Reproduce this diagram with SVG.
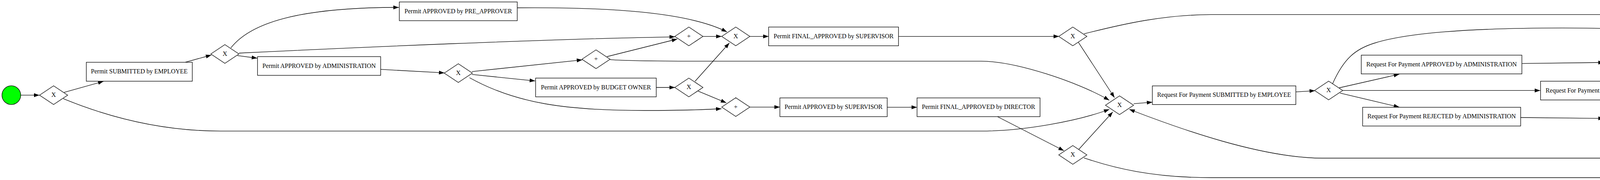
<svg xmlns="http://www.w3.org/2000/svg" width="6089" height="461" viewBox="0 0 6089 461">
<style>
.n rect,.n polygon{fill:#fff;stroke:#000;stroke-width:1.33}
.n text{font-family:"Liberation Serif","Times New Roman",serif;font-size:16px;text-anchor:middle;fill:#000}
.e path{fill:none;stroke:#000;stroke-width:1.33;marker-end:url(#arr)}
</style>
<defs>
<marker id="arr" markerUnits="userSpaceOnUse" markerWidth="14" markerHeight="10" refX="13.3" refY="4.7" orient="auto" viewBox="0 0 13.3 9.4" overflow="visible"><path d="M0,0 L13.3,4.7 L0,9.4 z" fill="#000"/></marker>
</defs>
<rect width="6089" height="461" fill="#fff"/>
<g id="edges" class="e">
<path d="M53,243.7 L101,243.7"/>
<path d="M164,236.7 L265,208.3"/>
<path d="M162,252.7 C260,293 400,335.7 565,335.7 L2511.6,335.7 C2620,335.7 2760,310 2840,280"/>
<path d="M474.5,159.3 L541,141"/>
<path d="M591,122.7 C640,60 760,19 1021,19"/>
<path d="M612,136 C900,122 1400,100 1728,94.3"/>
<path d="M607.9,142.3 L658.5,149"/>
<path d="M974.5,177.7 L1137.8,186.7"/>
<path d="M1207.9,183.3 L1490.6,153.3"/>
<path d="M1207.9,190.7 L1370,207.3"/>
<path d="M1202,199 C1320,265 1450,283 1650,283 C1750,283 1800,281 1847,278.5"/>
<path d="M1324,20 C1550,18 1760,30 1861,81.7"/>
<path d="M1553.9,145 L1733.8,100"/>
<path d="M1561.8,152.7 C1600,156 1700,156.7 1800,156.7 L2511.6,156.7 C2600,156.7 2760,210 2839.7,256.7"/>
<path d="M1799.8,93.3 L1847.4,93.3"/>
<path d="M1680,224 L1727.9,224"/>
<path d="M1779.3,208.3 L1867.2,110"/>
<path d="M1787.2,233.3 L1859.3,263.3"/>
<path d="M1919.8,93.3 L1967.7,93.3"/>
<path d="M1919.8,274.3 L1996.5,274.3"/>
<path d="M2271.3,274.7 L2347.6,274.7"/>
<path d="M2300.2,93.3 L2711.2,93.3"/>
<path d="M2554,299 L2723.7,386"/>
<path d="M2760.7,108.3 L2853.1,250"/>
<path d="M2775,86.7 C2880,60 2980,38 3100,37.3 L5655.4,37.3 C5760,37.3 5870,120 5936.7,235"/>
<path d="M2761.6,382.7 L2848.7,286.7"/>
<path d="M2775,404.3 C2850,430 2950,455 3100,455 L5655.4,455 C5780,455 5880,350 5936.7,269.3"/>
<path d="M2902.2,265.7 L2950,261.7"/>
<path d="M3317.4,235.3 L3366.5,232.3"/>
<path d="M3411.2,215 C3440,150 3470,125 3520,110 C3600,85 3750,72 4000,71.7 C4250,72 4450,85 4553.6,96.5"/>
<path d="M3428.1,225 L3582.1,190"/>
<path d="M3437,231.7 L3942.9,231.7"/>
<path d="M3430.4,238.3 L3582.1,274.3"/>
<path d="M3896,162.7 L4105.8,160"/>
<path d="M4172.8,155 L4555.8,103.3"/>
<path d="M4177.2,160.7 L4387,165.7"/>
<path d="M4340.2,243.3 C4500,243 4720,238 4800,210 C4825,200 4840,192 4852.7,182.7"/>
<path d="M3892.9,301 L4105.8,303.3"/>
<path d="M4177.2,301.7 C4350,292 4600,283 4800,282.7 L5655,282.7 C5750,282.7 5850,268 5920,256"/>
<path d="M4177.2,306 L4411.6,327.3"/>
<path d="M4622.8,101.7 C4720,118 4800,135 4850.4,158.3"/>
<path d="M4790.6,170.7 L4837,170.7"/>
<path d="M4910.7,170.7 L4957.6,170.7"/>
<path d="M4766.1,343.3 L4837,343.3"/>
<path d="M4910.7,343.3 C5100,341 5400,338.3 5713,338.3 C5800,338.3 5870,305 5931.7,266.7"/>
<path d="M4854.9,355 C4780,390 4640,417 4500,417 C4350,417 4280,405 4179.5,405 L3385.7,405 C3230,405 3020,330 2891,280"/>
<path d="M5385.3,170.7 L5433,170.7"/>
<path d="M5565.2,170.7 L5613,170.7"/>
<path d="M5684.4,165.7 C5740,162 5830,165 5880,190 C5900,202 5918,218 5931.7,232.3"/>
<path d="M5673.2,179 L5731.3,198.3"/>
<path d="M5868,235 L5920,245.7"/>
<path d="M5987.7,251.7 L6036,251.7"/>
</g>
<g id="start" class="n"><circle cx="29" cy="243.7" r="24" fill="#00ff00" stroke="#000" stroke-width="1.33"/></g>
<g id="end" class="n"><circle cx="6060" cy="251.7" r="24" fill="#ffa500" stroke="#000" stroke-width="1.33"/></g>
<g id="g1" class="n"><polygon points="101.2,243.7 137.2,219.7 173.2,243.7 137.2,267.7"/><text x="137.2" y="248">X</text></g>
<g id="t1" class="n"><rect x="221" y="159.5" width="271.3" height="48.5"/><text x="356.6" y="188.3">Permit SUBMITTED by EMPLOYEE</text></g>
<g id="g2" class="n"><polygon points="539.7,138.3 575.7,114.3 611.7,138.3 575.7,162.3"/><text x="575.7" y="142.6">X</text></g>
<g id="t2" class="n"><rect x="1022.3" y="5" width="301.9" height="48"/><text x="1173.2" y="33.5">Permit APPROVED by PRE_APPROVER</text></g>
<g id="t3" class="n"><rect x="659.3" y="145" width="315.2" height="48"/><text x="816.9" y="173.5">Permit APPROVED by ADMINISTRATION</text></g>
<g id="g3" class="n"><polygon points="1137.3,187.3 1173.3,163.3 1209.3,187.3 1173.3,211.3"/><text x="1173.3" y="191.6">X</text></g>
<g id="p2" class="n"><polygon points="1489.8,151.7 1525.8,127.7 1561.8,151.7 1525.8,175.7"/><text x="1525.8" y="156">+</text></g>
<g id="p1" class="n"><polygon points="1727.5,93.3 1763.5,69.3 1799.5,93.3 1763.5,117.3"/><text x="1763.5" y="97.6">+</text></g>
<g id="t4" class="n"><rect x="1371.2" y="200" width="308.8" height="48"/><text x="1525.6" y="228.5">Permit APPROVED by BUDGET OWNER</text></g>
<g id="x3" class="n"><polygon points="1727.5,224 1763.5,200 1799.5,224 1763.5,248"/><text x="1763.5" y="228.3">X</text></g>
<g id="x4" class="n"><polygon points="1847.6,93.3 1883.6,69.3 1919.6,93.3 1883.6,117.3"/><text x="1883.6" y="97.6">X</text></g>
<g id="t5" class="n"><rect x="1967.7" y="69.3" width="332.5" height="48"/><text x="2134" y="97.8">Permit FINAL_APPROVED by SUPERVISOR</text></g>
<g id="p3" class="n"><polygon points="1847.6,274.3 1883.6,250.3 1919.6,274.3 1883.6,298.3"/><text x="1883.6" y="278.6">+</text></g>
<g id="t6" class="n"><rect x="1996.5" y="250.7" width="274.8" height="48"/><text x="2133.9" y="279.2">Permit APPROVED by SUPERVISOR</text></g>
<g id="t7" class="n"><rect x="2347.6" y="250.7" width="314.9" height="48"/><text x="2505" y="279.2">Permit FINAL_APPROVED by DIRECTOR</text></g>
<g id="x5" class="n"><polygon points="2710.4,93.3 2746.4,69.3 2782.4,93.3 2746.4,117.3"/><text x="2746.4" y="97.6">X</text></g>
<g id="x6" class="n"><polygon points="2710.4,396.7 2746.4,372.7 2782.4,396.7 2746.4,420.7"/><text x="2746.4" y="401">X</text></g>
<g id="m" class="n"><polygon points="2830,269.5 2866,245.5 2902,269.5 2866,293.5"/><text x="2866" y="273.8">X</text></g>
<g id="t8" class="n"><rect x="2950" y="220" width="367.4" height="47.7"/><text x="3133.7" y="248.3">Request For Payment SUBMITTED by EMPLOYEE</text></g>
<g id="x7" class="n"><polygon points="3365.3,231.7 3401.3,207.7 3437.3,231.7 3401.3,255.7"/><text x="3401.3" y="236">X</text></g>
<g id="t9" class="n"><rect x="3484.8" y="141.3" width="411.2" height="48"/><text x="3690.4" y="169.8">Request For Payment APPROVED by ADMINISTRATION</text></g>
<g id="t10" class="n"><rect x="3943.8" y="208" width="396.4" height="48"/><text x="4142" y="236.5">Request For Payment APPROVED by PRE_APPROVER</text></g>
<g id="t11" class="n"><rect x="3488.4" y="274.7" width="404.5" height="48"/><text x="3690.6" y="303.2">Request For Payment REJECTED by ADMINISTRATION</text></g>
<g id="x8" class="n"><polygon points="4105.5,160 4141.5,136 4177.5,160 4141.5,184"/><text x="4141.5" y="164.3">X</text></g>
<g id="xr" class="n"><polygon points="4105.5,303.3 4141.5,279.3 4177.5,303.3 4141.5,327.3"/><text x="4141.5" y="307.6">X</text></g>
<g id="p4" class="n"><polygon points="4553.3,98.3 4589.3,74.3 4625.3,98.3 4589.3,122.3"/><text x="4589.3" y="102.6">+</text></g>
<g id="t12" class="n"><rect x="4388" y="146.7" width="402.6" height="48"/><text x="4589.3" y="175.2">Request For Payment APPROVED by BUDGET OWNER</text></g>
<g id="t13" class="n"><rect x="4412.5" y="320" width="353.6" height="48"/><text x="4589.3" y="348.5">Request For Payment REJECTED by EMPLOYEE</text></g>
<g id="x10" class="n"><polygon points="4838.1,170.7 4874.1,146.7 4910.1,170.7 4874.1,194.7"/><text x="4874.1" y="175">X</text></g>
<g id="x9" class="n"><polygon points="4838.1,343.3 4874.1,319.3 4910.1,343.3 4874.1,367.3"/><text x="4874.1" y="347.6">X</text></g>
<g id="t14" class="n"><rect x="4958.5" y="146.7" width="426.8" height="48"/><text x="5171.9" y="175.2">Request For Payment FINAL_APPROVED by SUPERVISOR</text></g>
<g id="t15" class="n"><rect x="5433" y="146.7" width="132.2" height="48"/><text x="5499.1" y="175.2">Request Payment</text></g>
<g id="xp" class="n"><polygon points="5612.7,170.7 5648.7,146.7 5684.7,170.7 5648.7,194.7"/><text x="5648.7" y="175">X</text></g>
<g id="t16" class="n"><rect x="5733.5" y="197.3" width="134.5" height="47.7"/><text x="5800.8" y="225.6">Payment Handled</text></g>
<g id="xe" class="n"><polygon points="5916,251.7 5952,227.7 5988,251.7 5952,275.7"/><text x="5952" y="256">X</text></g>
</svg>
